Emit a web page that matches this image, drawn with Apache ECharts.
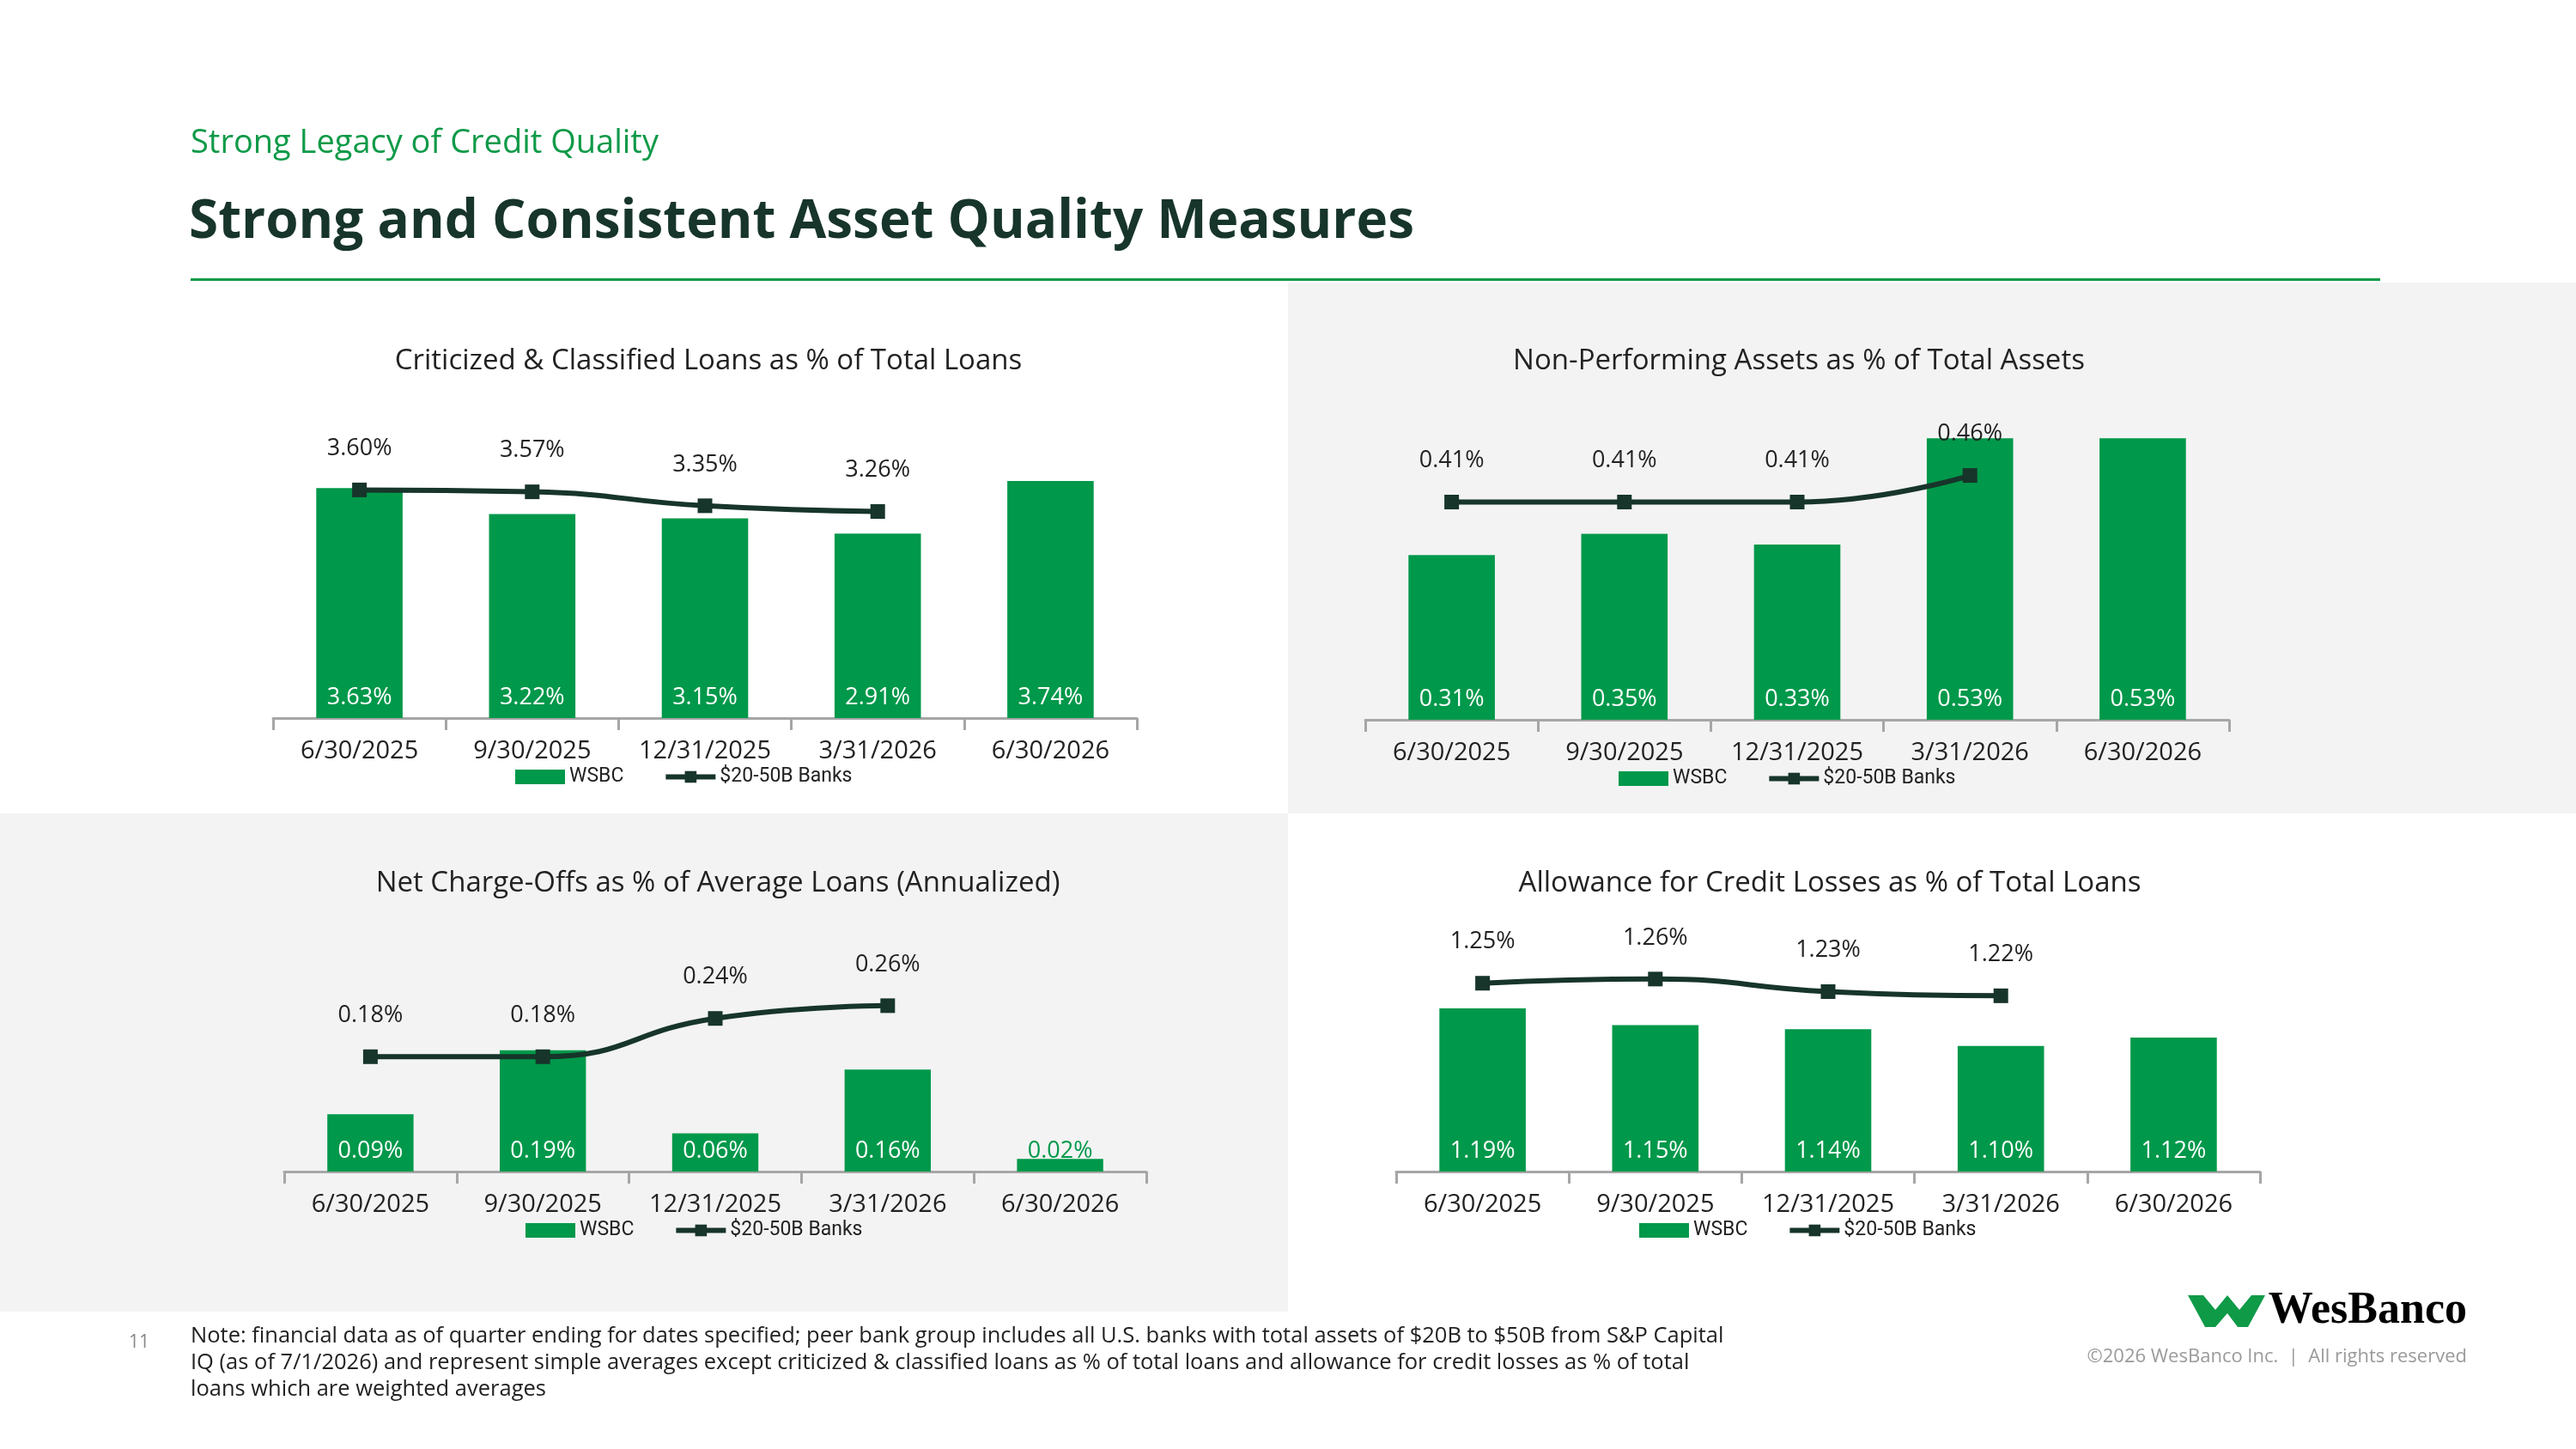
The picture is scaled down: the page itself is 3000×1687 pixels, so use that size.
<!DOCTYPE html>
<html>
<head>
<meta charset="utf-8">
<script src="https://cdn.jsdelivr.net/npm/echarts@6/dist/echarts.min.js"></script>
<style>
  html, body { margin: 0; padding: 0; background: #fff; }
  #main { width: 3000px; height: 1687px; }
</style>
</head>
<body>
<div id="main"></div>
<script>
const dates = ["6/30/2025", "9/30/2025", "12/31/2025", "3/31/2026", "6/30/2026"];

const ccWsbc = [3.63, 3.22, 3.15, 2.91, 3.74];
const ccPeer = [3.60, 3.57, 3.35, 3.26, null];
const npaWsbc = [0.31, 0.35, 0.33, 0.53, 0.53];
const npaPeer = [0.41, 0.41, 0.41, 0.46, null];
const ncoWsbc = [0.09, 0.19, 0.06, 0.16, 0.02];
const ncoPeer = [0.18, 0.18, 0.24, 0.26, null];
const aclWsbc = [1.19, 1.15, 1.14, 1.10, 1.12];
const aclPeer = [1.25, 1.26, 1.23, 1.22, null];

const GREEN = "#00984a";
const DARK = "#17352a";
const FONT = "'Open Sans', 'Noto Sans', sans-serif";

// grid boxes: left, top, width, height, y min, y max
const panels = [
  { box: [318, 504, 1006, 332], min: 0, max: 4.5, bar: ccWsbc, line: ccPeer, legendX: 805, legendY: 888 },
  { box: [1590, 467, 1006, 371], min: 0, max: 0.6, bar: npaWsbc, line: npaPeer, legendX: 2090, legendY: 890 },
  { box: [331, 1104, 1004, 260], min: 0, max: 0.35, bar: ncoWsbc, line: ncoPeer, legendX: 817, legendY: 1416 },
  { box: [1626, 1096, 1006, 268], min: 0.8, max: 1.35, bar: aclWsbc, line: aclPeer, legendX: 2114, legendY: 1416 }
];

const chart = echarts.init(document.getElementById("main"));

const pct = (p) => p.value == null ? "" : p.value.toFixed(2) + "%";
// tiny bars can't hold a white label, so it goes green over the bar
const barPct = (p) => p.value < 0.05 ? "{g|" + pct(p) + "}" : pct(p);

const option = {
  animation: false,
  textStyle: { fontFamily: FONT },
  grid: panels.map(p => ({ left: p.box[0], top: p.box[1], width: p.box[2], height: p.box[3] })),
  xAxis: panels.map((p, i) => ({
    type: "category", gridIndex: i, data: dates,
    axisLine: { lineStyle: { color: "#a6a6a6", width: 3 } },
    axisTick: { show: true, length: 14, lineStyle: { color: "#a6a6a6", width: 3 } },
    axisLabel: { color: "#222", fontSize: 29, margin: 24, fontFamily: FONT }
  })),
  yAxis: panels.map((p, i) => ({
    type: "value", gridIndex: i, min: p.min, max: p.max, show: false, splitLine: { show: false }
  })),
  legend: panels.map(p => ({
    top: p.legendY,
    left: p.legendX - 210,
    itemWidth: 58, itemHeight: 17, itemGap: 46,
    textStyle: { fontSize: 23, color: "#222", fontFamily: "Roboto, sans-serif" },
    data: [
      { name: "WSBC", icon: "rect" },
      { name: "$20-50B Banks", itemStyle: { color: DARK }, lineStyle: { width: 6, color: DARK } }
    ]
  })),
  series: panels.flatMap((p, i) => [
    {
      name: "WSBC", type: "bar", xAxisIndex: i, yAxisIndex: i, data: p.bar,
      barWidth: "50%", itemStyle: { color: GREEN },
      label: {
        show: true, position: "insideBottom", distance: 10, color: "#fff", fontSize: 27, formatter: barPct,
        rich: { g: { color: GREEN, fontSize: 27, fontFamily: FONT } }
      }
    },
    {
      name: "$20-50B Banks", type: "line", xAxisIndex: i, yAxisIndex: i, data: p.line,
      smooth: true, symbol: "rect", symbolSize: 17, z: 5,
      lineStyle: { color: DARK, width: 6 }, itemStyle: { color: DARK },
      label: { show: true, position: "top", distance: 26, color: "#222", fontSize: 27, formatter: pct }
    }
  ]),
  graphic: [
    { type: "rect", z: -10, shape: { x: 1500, y: 329, width: 1500, height: 618 }, style: { fill: "#f3f3f3" } },
    { type: "rect", z: -10, shape: { x: 0, y: 947, width: 1500, height: 580 }, style: { fill: "#f3f3f3" } },
    { type: "text", left: 222, top: 148, style: { text: "Strong Legacy of Credit Quality", fill: "#0f9a48", font: "38px " + FONT } },
    { type: "text", left: 220, top: 228, style: { text: "Strong and Consistent Asset Quality Measures", fill: "#17352a", font: "bold 62px " + FONT } },
    { type: "rect", shape: { x: 222, y: 324, width: 2550, height: 3 }, style: { fill: "#0f9a48" } },
    { type: "text", x: 825, y: 421, style: { text: "Criticized & Classified Loans as % of Total Loans", fill: "#222", font: "33px " + FONT, align: "center", verticalAlign: "middle" } },
    { type: "text", x: 2095, y: 421, style: { text: "Non-Performing Assets as % of Total Assets", fill: "#222", font: "33px " + FONT, align: "center", verticalAlign: "middle" } },
    { type: "text", x: 836, y: 1029, style: { text: "Net Charge-Offs as % of Average Loans (Annualized)", fill: "#222", font: "33px " + FONT, align: "center", verticalAlign: "middle" } },
    { type: "text", x: 2131, y: 1029, style: { text: "Allowance for Credit Losses as % of Total Loans", fill: "#222", font: "33px " + FONT, align: "center", verticalAlign: "middle" } },
    { type: "text", x: 150, y: 1553, style: { text: "11", fill: "#888", font: "21px " + FONT } },
    { type: "text", x: 222, y: 1540, style: { text: "Note: financial data as of quarter ending for dates specified; peer bank group includes all U.S. banks with total assets of $20B to $50B from S&P Capital\nIQ (as of 7/1/2026) and represent simple averages except criticized & classified loans as % of total loans and allowance for credit losses as % of total\nloans which are weighted averages", fill: "#222", font: "25.5px " + FONT, lineHeight: 31 } },
    { type: "polygon", shape: { points: [[2548, 1508], [2566, 1508], [2580, 1525], [2594, 1508], [2608, 1525], [2622, 1508], [2620, 1508], [2620, 1508], [2638, 1508], [2618, 1545], [2606, 1545], [2594, 1529], [2580, 1545], [2568, 1545]] }, style: { fill: "#0f9a48" } },
    { type: "text", x: 2873, y: 1527, style: { text: "WesBanco", fill: "#000", font: "bold 52px 'Liberation Serif', serif", align: "right", verticalAlign: "middle" } },
    { type: "text", x: 2873, y: 1580, style: { text: "©2026 WesBanco Inc.  |  All rights reserved", fill: "#9a9a9a", font: "22px " + FONT, align: "right", verticalAlign: "middle" } }
  ]
};

chart.setOption(option);
</script>
</body>
</html>
